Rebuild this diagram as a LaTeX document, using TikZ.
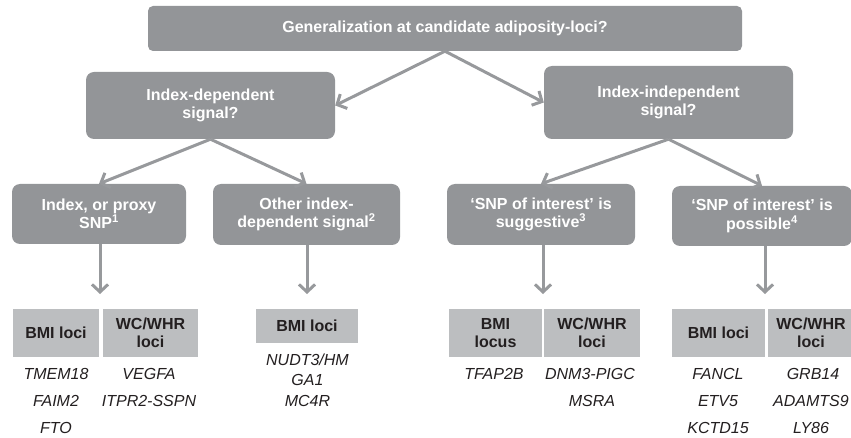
\documentclass[tikz,border=0pt]{standalone}
\usepackage{fontspec}
\setmainfont{Liberation Sans}
\usetikzlibrary{arrows.meta}

\definecolor{boxgray}{HTML}{939598}
\definecolor{headgray}{HTML}{BCBEC0}
\definecolor{flowgray}{HTML}{97999C}
\definecolor{inkdark}{HTML}{231F20}

\tikzset{
  qbox/.style={fill=boxgray, rounded corners=8pt, text=white, inner sep=0pt,
    font=\bfseries\fontsize{16}{18.5}\selectfont, align=center},
  headcell/.style={fill=headgray, text=inkdark, inner sep=0pt, minimum height=48pt,
    font=\bfseries\fontsize{16}{18.5}\selectfont, align=center},
  gene/.style={text=inkdark, inner sep=0pt, text height=11.5pt, text depth=0pt,
    font=\itshape\fontsize{16}{18.5}\selectfont},
  flow/.style={draw=flowgray, line width=3pt, -{Straight Barb[length=7.5pt,width=16pt]}},
}

\begin{document}
\begin{tikzpicture}[x=1pt,y=-1pt]
		\useasboundingbox (0,0) rectangle (851,438);
		% question boxes
		\node[qbox, rounded corners=5pt, minimum width=594pt, minimum height=45pt] (gen) at (445,28.5) {Generalization at candidate adiposity-loci?};
		\node[qbox, minimum width=249pt, minimum height=67pt] (dep) at (210.5,105.5) {Index-dependent\\signal?};
		\node[qbox, minimum width=249pt, minimum height=73pt] (indep) at (668.5,102.5) {Index-independent\\signal?};
		\node[qbox, minimum width=174pt, minimum height=60pt] (proxy) at (99,214) {Index, or proxy\\SNP\textsuperscript{1}};
		\node[qbox, minimum width=187pt, minimum height=61pt] (other) at (306.5,214.5) {Other index-\\dependent signal\textsuperscript{2}};
		\node[qbox, minimum width=188pt, minimum height=61pt] (sugg) at (541,214.5) {‘SNP of interest’ is\\suggestive\textsuperscript{3}};
		\node[qbox, minimum width=180pt, minimum height=60pt] (poss) at (762,216) {‘SNP of interest’ is\\possible\textsuperscript{4}};
		\draw[flow] (gen.south) -- (dep.east);
		\draw[flow] (gen.south) -- (indep.west);
		\draw[flow] (dep.south) -- (proxy.north);
		\draw[flow] (dep.south) -- (other.north);
		\draw[flow] (indep.south) -- (sugg.north);
		\draw[flow] (indep.south) -- (poss.north);
		% arrows down to the tables
		\coordinate (end1) at (100,294);
		\coordinate (end2) at (307,294);
		\coordinate (end3) at (543,294);
		\coordinate (end4) at (765,294);
		\draw[flow] (proxy.south -| end1) -- (end1);
		\draw[flow] (other.south -| end2) -- (end2);
		\draw[flow] (sugg.south -| end3) -- (end3);
		\draw[flow] (poss.south -| end4) -- (end4);
		% table heads
		\node[headcell, minimum width=86pt] (bmi1) at (56,333) {BMI loci};
		\node[headcell, minimum width=95pt] (whr1) at (150.5,333) {WC/WHR\\loci};
		\node[headcell, minimum width=102pt, minimum height=34pt] (bmi2) at (307,326) {BMI loci};
		\node[headcell, minimum width=93pt] (bmi3) at (495.5,333) {BMI\\locus};
		\node[headcell, minimum width=96pt] (whr3) at (592,333) {WC/WHR\\loci};
		\node[headcell, minimum width=93pt] (bmi4) at (718.5,333) {BMI loci};
		\node[headcell, minimum width=86pt] (whr4) at (811,333) {WC/WHR\\loci};
		% loci
		\node[gene] (tmem) at (56,374) {TMEM18};
		\node[gene] (faim) at (56,401) {FAIM2};
		\node[gene] (fto) at (56,428) {FTO};
		\node[gene] (vegfa) at (149,374) {VEGFA};
		\node[gene] (itpr) at (149,401) {ITPR2-SSPN};
		\node[gene] (nudt) at (307.5,360) {NUDT3/HM};
		\node[gene] (ga) at (307.5,380) {GA1};
		\node[gene] (mcr) at (307.5,401) {MC4R};
		\node[gene] (tfap) at (494,374) {TFAP2B};
		\node[gene] (dnm) at (590,374) {DNM3-PIGC};
		\node[gene] (msra) at (592,401) {MSRA};
		\node[gene] (fancl) at (718,374) {FANCL};
		\node[gene] (etv) at (718,401) {ETV5};
		\node[gene] (kctd) at (718,428) {KCTD15};
		\node[gene] (grb) at (813,374) {GRB14};
		\node[gene] (adam) at (811,401) {ADAMTS9};
		\node[gene] (ly) at (811,428) {LY86};
	\end{tikzpicture}
\end{document}
